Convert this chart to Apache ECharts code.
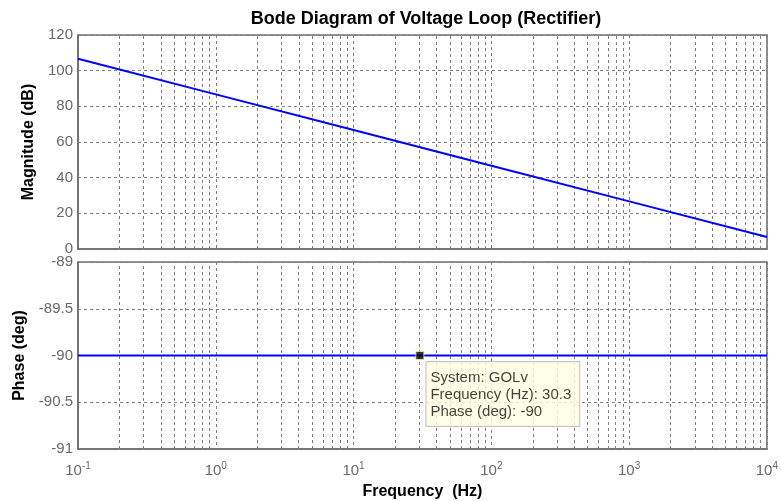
<!DOCTYPE html>
<html>
<head>
<meta charset="utf-8">
<script src="https://cdn.jsdelivr.net/npm/echarts@6/dist/echarts.min.js"></script>
<style>
  html, body { margin: 0; padding: 0; background: #fff; }
  #chart { width: 781px; height: 501px; }
</style>
</head>
<body>
<div id="chart"></div>
<script>
// Open-loop voltage transfer function GOLv: pure integrator response
const frequencyHz = [0.1, 1, 10, 100, 1000, 10000];
const magnitudeDb = [106.7, 86.7, 66.7, 46.7, 26.7, 6.7];
const phaseDeg = [-90, -90, -90, -90, -90, -90];

// Data tip
const tipFrequency = 30.3;
const tipPhase = -90;
const tipSystem = 'GOLv';

const magTicks = { min: 0, max: 120, step: 20 };
const phaseTicks = { min: -91, max: -89, step: 0.5 };
const decades = { min: 0.1, max: 10000 };

const FONT = 'Arial, "Liberation Sans", Helvetica, sans-serif';
const AXIS_GRAY = '#6e6e6e';
const GRID_GRAY = '#808080';
const LABEL_GRAY = '#666a70';

// Minor log grid positions: 2..9 times each decade
const minorFreqs = [];
for (let d = decades.min; d < decades.max; d *= 10) {
  for (let k = 2; k <= 9; k++) minorFreqs.push(+(k * d).toPrecision(6));
}

function minorGrid() {
  return {
    silent: true,
    symbol: 'none',
    animation: false,
    label: { show: false },
    lineStyle: { type: [3, 3], color: GRID_GRAY, width: 1 },
    data: minorFreqs.map(f => ({ xAxis: f }))
  };
}

function expLabel(v) {
  const e = Math.round(Math.log10(v));
  return '{b|10}{e|' + e + '}';
}

const dash = { type: [3, 3], color: GRID_GRAY, width: 1 };

const xBase = {
  type: 'log',
  logBase: 10,
  min: decades.min,
  max: decades.max,
  axisLine: { show: true, onZero: false, lineStyle: { color: AXIS_GRAY, width: 1.5 } },
  axisTick: { show: false },
  splitLine: { show: true, lineStyle: dash }
};

const nameStyle = { fontFamily: FONT, fontWeight: 'bold', fontSize: 16, color: '#000' };

const option = {
  animation: false,
  backgroundColor: '#fff',
  title: {
    text: 'Bode Diagram of Voltage Loop (Rectifier)',
    left: 421,
    textAlign: 'center',
    top: 5,
    textStyle: { fontFamily: FONT, fontWeight: 'bold', fontSize: 18, color: '#000' }
  },
  grid: [
    { left: 78, right: 14, top: 35, height: 214, show: true, borderColor: AXIS_GRAY, borderWidth: 1.5, backgroundColor: '#fff' },
    { left: 78, right: 14, top: 262, height: 188, show: true, borderColor: AXIS_GRAY, borderWidth: 1.5, backgroundColor: '#fff' }
  ],
  xAxis: [
    Object.assign({}, xBase, { gridIndex: 0, axisLabel: { show: false } }),
    Object.assign({}, xBase, {
      gridIndex: 1,
      name: 'Frequency  (Hz)',
      nameLocation: 'middle',
      nameGap: 35,
      nameTextStyle: nameStyle,
      axisLabel: {
        show: true,
        margin: 12,
        formatter: expLabel,
        rich: {
          b: { fontFamily: FONT, fontSize: 15, color: LABEL_GRAY },
          e: { fontFamily: FONT, fontSize: 10, color: LABEL_GRAY, verticalAlign: 'bottom', padding: [0, 0, 10, 0] }
        }
      }
    })
  ],
  yAxis: [
    {
      gridIndex: 0,
      type: 'value',
      min: magTicks.min,
      max: magTicks.max,
      interval: magTicks.step,
      name: 'Magnitude (dB)',
      nameLocation: 'middle',
      nameGap: 41,
      nameTextStyle: nameStyle,
      axisLine: { show: true, lineStyle: { color: AXIS_GRAY, width: 1.5 } },
      axisTick: { show: false },
      axisLabel: { fontFamily: FONT, fontSize: 15, color: LABEL_GRAY, margin: 5 },
      splitLine: { show: true, lineStyle: dash }
    },
    {
      gridIndex: 1,
      type: 'value',
      min: phaseTicks.min,
      max: phaseTicks.max,
      interval: phaseTicks.step,
      name: 'Phase (deg)',
      nameLocation: 'middle',
      nameGap: 49,
      nameTextStyle: nameStyle,
      axisLine: { show: true, lineStyle: { color: AXIS_GRAY, width: 1.5 } },
      axisTick: { show: false },
      axisLabel: { fontFamily: FONT, fontSize: 15, color: LABEL_GRAY, margin: 5, formatter: v => String(+v.toFixed(1)) },
      splitLine: { show: true, lineStyle: dash }
    }
  ],
  series: [
    {
      name: 'Magnitude',
      type: 'line',
      xAxisIndex: 0,
      yAxisIndex: 0,
      data: frequencyHz.map((f, i) => [f, magnitudeDb[i]]),
      showSymbol: false,
      lineStyle: { color: '#0000ff', width: 2 },
      z: 5,
      markLine: minorGrid()
    },
    {
      name: 'Phase',
      type: 'line',
      xAxisIndex: 1,
      yAxisIndex: 1,
      data: frequencyHz.map((f, i) => [f, phaseDeg[i]]),
      showSymbol: false,
      lineStyle: { color: '#0000ff', width: 2 },
      z: 5,
      markLine: minorGrid()
    },
    {
      name: 'Data tip',
      type: 'scatter',
      xAxisIndex: 1,
      yAxisIndex: 1,
      data: [[tipFrequency, tipPhase]],
      symbol: 'rect',
      symbolSize: 8,
      itemStyle: { color: '#000', borderColor: '#f2e8a8', borderWidth: 1 },
      z: 10,
      label: {
        show: true,
        position: [11, 11],
        formatter: () => [
          'System: ' + tipSystem,
          'Frequency (Hz): ' + tipFrequency,
          'Phase (deg): ' + tipPhase
        ].join('\n'),
        fontFamily: FONT,
        fontSize: 15,
        lineHeight: 17,
        color: '#111',
        backgroundColor: '#ffffe1',
        borderColor: '#b8b8b8',
        borderWidth: 1,
        padding: [7, 8, 6, 4],
        align: 'left',
        verticalAlign: 'top'
      }
    }
  ]
};

const chart = echarts.init(document.getElementById('chart'), null, { renderer: 'canvas' });
chart.setOption(option);
</script>
</body>
</html>
